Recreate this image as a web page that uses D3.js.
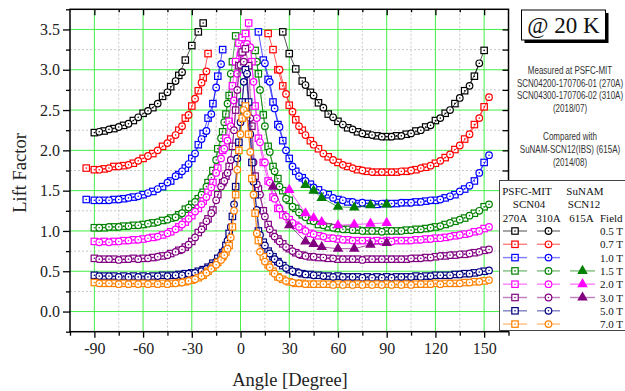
<!DOCTYPE html>
<html>
<head>
<meta charset="utf-8">
<script src="https://cdn.jsdelivr.net/npm/d3@7"></script>
<style>
body { margin: 0; background: #fff; }
</style>
</head>
<body>
<svg id="chart" width="625" height="391"></svg>
<script>
// angles [degree] of each sample
var ang270 = [-95,-90,-84,-78,-72,-66,-60,-54,-48,-43,
              -38,-34,-30,-26,-23,-20,-17,-14,-11,-9,
              -7,-5,-3,-1,1,3,5,7,9,11,
              14,17,20,23,26,30,34,38,43,48,
              54,60,66,72,78,84,90,96,102,108,
              114,120,126,132,138,144,150];
var ang310 = [-87,-81,-75,-69,-63,-57,-51,-45,-40,-36,
              -32,-28,-24,-21,-18,-15,-12,-10,-8,-6,
              -4,-2,0,2,4,6,8,10,12,15,
              18,21,24,28,32,36,40,45,51,57,
              63,69,75,81,87,93,99,105,111,117,
              123,129,135,141,147,153];
var ang615 = [20,30,40,45,50,60,70,80,90];

var fields = ["0.5 T","0.7 T","1.0 T","1.5 T","2.0 T","3.0 T","5.0 T","7.0 T"];
var colors = ["#000000","#ff0000","#0000ff","#008000","#ff00ff","#800080","#000080","#ff8000"];

// lift factor, PSFC-MIT SCN04 270A (squares)
var lf270_05 = [null,2.22,2.24,2.27,2.31,2.37,2.46,2.53,2.67,2.79,
  2.93,3.12,3.30,3.47,3.58,null,null,null,null,null,
  null,null,null,null,null,null,null,null,null,null,
  null,null,null,null,3.47,3.20,3.01,2.86,2.72,2.59,
  2.45,2.36,2.28,2.23,2.20,2.18,2.17,2.18,2.20,2.24,
  2.29,2.37,2.46,2.58,2.74,2.92,3.24];
var lf270_07 = [1.78,1.76,1.77,1.80,1.81,1.84,1.90,1.96,2.05,2.14,
  2.25,2.40,2.55,2.74,2.90,3.20,null,null,null,null,
  null,null,null,null,null,null,null,null,null,null,
  null,3.45,3.25,3.00,2.80,2.56,2.38,2.25,2.12,2.02,
  1.92,1.85,1.80,1.76,1.74,1.73,1.73,1.73,1.74,1.76,
  1.79,1.84,1.91,2.01,2.14,2.32,2.54];
var lf270_10 = [1.39,1.38,1.38,1.39,1.40,1.42,1.45,1.49,1.55,1.62,
  1.70,1.78,1.90,2.07,2.21,2.40,2.58,2.92,3.25,null,
  null,null,null,null,null,null,null,null,null,3.47,
  3.12,2.88,2.60,2.32,2.12,1.90,1.74,1.66,1.58,1.51,
  1.45,1.39,1.36,1.34,1.34,1.33,1.34,1.34,1.35,1.36,
  1.37,1.38,1.41,1.45,1.52,1.62,1.85];
var lf270_15 = [null,1.04,1.04,1.05,1.06,1.07,1.08,1.10,1.13,1.16,
  1.20,1.27,1.33,1.40,1.48,1.60,1.75,2.02,2.23,2.45,
  2.68,3.10,3.42,null,null,null,null,null,3.24,2.95,
  2.44,2.05,1.80,1.65,1.50,1.38,1.28,1.20,1.13,1.08,
  1.05,1.03,1.02,1.01,1.00,1.00,1.00,1.00,1.01,1.02,
  1.03,1.05,1.08,1.12,1.16,1.22,1.30];
var lf270_20 = [null,0.87,0.87,0.87,0.88,0.89,0.90,0.92,0.95,0.99,
  1.05,1.11,1.19,1.28,1.37,1.48,1.60,1.78,2.00,2.15,
  2.36,2.80,3.10,3.33,3.40,3.45,3.58,3.10,2.55,2.15,
  1.85,1.62,1.42,1.28,1.20,1.14,1.07,1.02,0.97,0.94,
  0.91,0.90,0.89,0.88,0.88,0.88,0.88,0.88,0.88,0.89,
  0.90,0.91,0.92,0.94,0.96,0.99,1.03];
var lf270_30 = [null,0.66,0.65,0.65,0.65,0.66,0.66,0.67,0.69,0.72,
  0.76,0.80,0.87,0.98,1.06,1.15,1.26,1.45,1.60,1.68,
  1.80,2.05,2.50,3.05,3.22,3.26,3.05,2.30,1.68,1.52,
  1.25,1.08,0.97,0.90,0.84,0.78,0.73,0.70,0.68,0.67,
  0.66,0.65,0.65,0.65,0.65,0.65,0.65,0.65,0.65,0.66,
  0.67,0.68,0.69,0.70,0.71,0.73,0.76];
var lf270_50 = [null,0.45,0.44,0.44,0.44,0.44,0.44,0.44,0.45,0.45,
  0.46,0.47,0.48,0.50,0.52,0.55,0.60,0.66,0.73,0.82,
  0.97,1.18,1.55,2.10,2.60,3.00,2.60,1.85,1.45,1.00,
  0.86,0.75,0.68,0.62,0.57,0.52,0.49,0.47,0.46,0.45,
  0.44,0.44,0.43,0.43,0.43,0.43,0.43,0.43,0.43,0.44,
  0.44,0.45,0.45,0.46,0.47,0.48,0.50];
var lf270_70 = [null,0.36,0.35,0.35,0.35,0.35,0.35,0.35,0.35,0.35,
  0.36,0.37,0.39,0.42,0.45,0.50,0.55,0.61,0.68,0.74,
  0.82,1.05,1.45,2.00,2.40,2.55,2.20,1.65,1.22,0.88,
  0.68,0.58,0.50,0.43,0.40,0.37,0.35,0.35,0.34,0.34,
  0.34,0.34,0.34,0.34,0.34,0.34,0.34,0.34,0.34,0.34,
  0.34,0.35,0.35,0.35,0.36,0.37,0.38];

// lift factor, PSFC-MIT SCN04 310A (circles)
var lf310_05 = [2.23,2.26,2.29,2.33,2.41,2.49,2.58,2.72,2.86,2.97,
  null,null,null,null,null,null,null,null,null,null,
  null,null,null,null,null,null,null,null,null,null,
  null,null,null,null,null,null,2.81,2.68,2.53,2.41,
  2.32,2.26,2.21,2.19,2.17,2.17,2.18,2.21,2.25,2.31,
  2.40,2.50,2.65,2.80,3.08,null];
var lf310_07 = [1.76,1.78,1.80,1.82,1.87,1.93,2.00,2.09,2.19,2.30,
  2.44,2.64,2.84,2.98,null,null,null,null,null,null,
  null,null,null,null,null,null,null,null,null,null,
  null,null,3.00,2.70,2.48,2.30,2.19,2.07,1.96,1.88,
  1.82,1.78,1.75,1.73,1.73,1.73,1.74,1.75,1.78,1.81,
  1.87,1.95,2.06,2.20,2.40,2.66];
var lf310_10 = [1.38,1.38,1.39,1.41,1.43,1.47,1.52,1.60,1.68,1.74,
  1.83,1.96,2.14,2.24,2.45,2.78,3.07,null,null,null,
  null,null,null,null,null,null,null,null,null,3.08,
  2.85,2.52,2.29,2.00,1.80,1.68,1.62,1.54,1.47,1.41,
  1.38,1.36,1.35,1.34,1.34,1.34,1.35,1.35,1.36,1.38,
  1.39,1.43,1.49,1.56,1.72,1.94];
var lf310_15 = [1.04,1.05,1.05,1.06,1.07,1.09,1.11,1.14,1.17,1.22,
  1.29,1.36,1.45,1.55,1.66,1.88,2.15,2.35,2.58,2.95,
  null,null,null,null,null,null,null,3.10,2.75,2.30,
  1.98,1.74,1.55,1.40,1.30,1.23,1.17,1.12,1.07,1.04,
  1.02,1.01,1.00,1.00,0.99,1.00,1.00,1.01,1.02,1.04,
  1.06,1.10,1.14,1.19,1.25,1.33];
var lf310_20 = [0.86,0.86,0.87,0.88,0.89,0.91,0.93,0.97,1.02,1.08,
  1.15,1.24,1.33,1.42,1.54,1.72,1.90,2.02,2.12,2.30,
  2.62,2.95,3.20,3.30,3.32,3.28,2.85,2.40,2.10,1.85,
  1.60,1.40,1.28,1.18,1.10,1.05,1.00,0.96,0.93,0.91,
  0.89,0.88,0.88,0.87,0.87,0.87,0.88,0.88,0.89,0.90,
  0.91,0.93,0.95,0.97,1.00,1.05];
var lf310_30 = [0.65,0.65,0.64,0.65,0.65,0.66,0.68,0.70,0.74,0.77,
  0.83,0.92,1.02,1.12,1.22,1.38,1.55,1.62,1.72,1.88,
  2.25,2.75,3.06,3.10,2.95,2.40,1.85,1.58,1.45,1.18,
  1.02,0.93,0.87,0.80,0.75,0.71,0.69,0.68,0.67,0.66,
  0.65,0.65,0.64,0.65,0.65,0.65,0.65,0.66,0.66,0.67,
  0.69,0.70,0.71,0.72,0.74,0.77];
var lf310_50 = [0.44,0.44,0.43,0.43,0.43,0.43,0.44,0.44,0.45,0.45,
  0.47,0.48,0.50,0.53,0.57,0.62,0.70,0.76,0.88,1.05,
  1.33,1.90,2.35,2.85,2.95,2.20,1.61,1.26,0.95,0.82,
  0.72,0.65,0.60,0.54,0.50,0.48,0.46,0.45,0.44,0.43,
  0.43,0.43,0.42,0.42,0.42,0.42,0.43,0.43,0.43,0.44,
  0.45,0.45,0.46,0.47,0.49,0.51];
var lf310_70 = [0.35,0.35,0.34,0.34,0.34,0.34,0.34,0.34,0.35,0.36,
  0.38,0.40,0.44,0.48,0.53,0.58,0.64,0.70,0.78,0.92,
  1.25,1.76,2.20,2.50,2.45,1.98,1.45,0.97,0.74,0.62,
  0.55,0.47,0.42,0.38,0.36,0.35,0.34,0.34,0.34,0.33,
  0.33,0.33,0.33,0.33,0.33,0.33,0.33,0.33,0.34,0.34,
  0.34,0.35,0.35,0.36,0.37,0.39];

// lift factor, SuNAM SCN12 615A (triangles)
var lf615_15 = [null,null,1.57,1.50,1.41,1.30,1.29,1.32,1.33];
var lf615_20 = [null,1.51,1.22,1.16,1.11,1.07,1.08,1.09,1.10];
var lf615_30 = [1.55,1.07,0.87,0.84,0.80,0.78,0.78,0.83,0.85];

var xTicks = [-90,-60,-30,0,30,60,90,120,150];
var yTicks = [0,0.5,1,1.5,2,2.5,3,3.5];

var sq = [lf270_05,lf270_07,lf270_10,lf270_15,lf270_20,lf270_30,lf270_50,lf270_70];
var ci = [lf310_05,lf310_07,lf310_10,lf310_15,lf310_20,lf310_30,lf310_50,lf310_70];
var tri = [null,null,null,lf615_15,lf615_20,lf615_30,null,null];

var svg = d3.select("#chart");
svg.append("rect").attr("width",625).attr("height",391).attr("fill","#fff");

var x = d3.scaleLinear().domain([-105,165]).range([70,508.5]);
var y = d3.scaleLinear().domain([-0.25,3.75]).range([331.7,9.3]);
var serif = "'Liberation Serif','Times New Roman',serif";

// grid: dotted minor, green major
var minorX = [-75,-45,-15,15,45,75,105,135];
var minorY = [0.25,0.75,1.25,1.75,2.25,2.75,3.25];
var grid = svg.append("g");
grid.selectAll(".mx").data(minorX).enter().append("line")
  .attr("x1",x).attr("x2",x).attr("y1",y(-0.25)).attr("y2",y(3.75))
  .attr("stroke","#c8c8c8").attr("stroke-dasharray","2,2");
grid.selectAll(".my").data(minorY).enter().append("line")
  .attr("y1",y).attr("y2",y).attr("x1",x(-105)).attr("x2",x(165))
  .attr("stroke","#c8c8c8").attr("stroke-dasharray","2,2");
grid.selectAll(".gx").data(xTicks).enter().append("line")
  .attr("x1",x).attr("x2",x).attr("y1",y(-0.25)).attr("y2",y(3.75))
  .attr("stroke","#44ee44").attr("stroke-width",1);
grid.selectAll(".gy").data(yTicks).enter().append("line")
  .attr("y1",y).attr("y2",y).attr("x1",x(-105)).attr("x2",x(165))
  .attr("stroke","#44ee44").attr("stroke-width",1);

// axes
function styleAxis(g) {
  g.select(".domain").remove();
  g.selectAll("line").attr("stroke","#000").attr("stroke-width",1.3);
  g.selectAll("text").attr("font-family",serif).attr("font-size",16).attr("fill","#222");
}
var edgeX = [-105].concat(minorX,[165]);
var edgeY = [-0.25].concat(minorY,[3.75]);
svg.append("g").attr("transform","translate(0,331.7)")
  .call(d3.axisBottom(x).tickValues(xTicks).tickSize(6).tickPadding(5).tickFormat(function (d) { return String(d); })).call(styleAxis);
svg.append("g").attr("transform","translate(0,331.7)")
  .call(d3.axisBottom(x).tickValues(edgeX).tickSize(4).tickFormat("")).call(styleAxis);
svg.append("g").attr("transform","translate(70,0)")
  .call(d3.axisLeft(y).tickValues(yTicks).tickSize(7).tickPadding(3).tickFormat(d3.format(".1f"))).call(styleAxis);
svg.append("g").attr("transform","translate(70,0)")
  .call(d3.axisLeft(y).tickValues(edgeY).tickSize(4).tickFormat("")).call(styleAxis);
svg.append("g").attr("transform","translate(0,9.3)")
  .call(d3.axisTop(x).tickValues(xTicks).tickSize(-6).tickFormat("")).call(styleAxis);
svg.append("g").attr("transform","translate(0,9.3)")
  .call(d3.axisTop(x).tickValues(minorX).tickSize(-3).tickFormat("")).call(styleAxis);
svg.append("g").attr("transform","translate(508.5,0)")
  .call(d3.axisRight(y).tickValues(yTicks.concat(minorY)).tickSize(-6).tickFormat("")).call(styleAxis);

svg.append("rect").attr("x",x(-105)).attr("y",y(3.75))
  .attr("width",x(165)-x(-105)).attr("height",y(-0.25)-y(3.75))
  .attr("fill","none").attr("stroke","#000").attr("stroke-width",1.5);

// axis titles
svg.append("text").attr("x",290).attr("y",386).attr("text-anchor","middle")
  .attr("font-family",serif).attr("font-size",18.5).attr("fill","#222").text("Angle [Degree]");
svg.append("text").attr("transform","translate(26,173) rotate(-90)").attr("text-anchor","middle")
  .attr("font-family",serif).attr("font-size",18.5).attr("fill","#222").text("Lift Factor");

// markers
function marker(g, shape, cx, cy, color) {
  if (shape === "sq") {
    g.append("rect").attr("x",cx-3.2).attr("y",cy-3.2).attr("width",6.4).attr("height",6.4)
      .attr("fill","#fff").attr("stroke",color).attr("stroke-width",1.2);
    g.append("circle").attr("cx",cx).attr("cy",cy).attr("r",0.8).attr("fill",color);
  } else if (shape === "ci") {
    g.append("circle").attr("cx",cx).attr("cy",cy).attr("r",3.3)
      .attr("fill","#fff").attr("stroke",color).attr("stroke-width",1.2);
    g.append("circle").attr("cx",cx).attr("cy",cy).attr("r",0.8).attr("fill",color);
  } else {
    g.append("path").attr("transform","translate(" + cx + "," + cy + ")")
      .attr("d", d3.symbol(d3.symbolTriangle, 48)()).attr("fill",color);
  }
}

var plot = svg.append("g");
function drawSeries(angles, vals, color, shape) {
  var pts = angles.map(function (a, i) { return {a: a, v: vals[i]}; });
  var line = d3.line().defined(function (d) { return d.v != null; })
    .x(function (d) { return x(d.a); }).y(function (d) { return y(d.v); });
  plot.append("path").datum(pts).attr("d", line).attr("fill","none")
    .attr("stroke",color).attr("stroke-width",0.9).attr("stroke-opacity",0.75);
  pts.filter(function (d) { return d.v != null; }).forEach(function (d) {
    marker(plot, shape, x(d.a), y(d.v), color);
  });
}

for (var i = 0; i < fields.length; i++) {
  drawSeries(ang270, sq[i], colors[i], "sq");
  drawSeries(ang310, ci[i], colors[i], "ci");
}
for (var i = 0; i < fields.length; i++) {
  if (tri[i]) drawSeries(ang615, tri[i], colors[i], "tri");
}

// @ 20 K box
svg.append("rect").attr("x",524.5).attr("y",13).attr("width",84).attr("height",30).attr("fill","#000");
svg.append("rect").attr("x",521.5).attr("y",10).attr("width",84).attr("height",30)
  .attr("fill","#fff").attr("stroke","#000").attr("stroke-width",1);
svg.append("text").attr("x",563.5).attr("y",33).attr("text-anchor","middle")
  .attr("font-family",serif).attr("font-size",23).attr("fill","#111").text("@ 20 K");

// notes, narrow sans squeezed horizontally
var note = ["Measured at PSFC-MIT","SCN04200-170706-01 (270A)","SCN04300-170706-02 (310A)","(2018/07)",
            "Compared with","SuNAM-SCN12(IBS) (615A)","(2014/08)"];
var noteY = [74,86.5,99.2,112,140,153,166];
svg.selectAll(".note").data(note).enter().append("text")
  .attr("transform",function (d, i) { return "translate(570," + noteY[i] + ") scale(0.8,1)"; })
  .attr("text-anchor","middle")
  .attr("font-family","'Liberation Sans',Arial,sans-serif")
  .attr("font-size",10).attr("fill","#333").text(function (d) { return d; });

// legend
var lg = svg.append("g");
lg.append("rect").attr("x",499.5).attr("y",180.5).attr("width",140).attr("height",150)
  .attr("fill","#fff").attr("stroke","#444").attr("stroke-width",1);
function ltext(t, xx, yy, anchor) {
  lg.append("text").attr("x",xx).attr("y",yy).attr("text-anchor",anchor || "middle")
    .attr("font-family",serif).attr("font-size",11).attr("fill","#111").text(t);
}
ltext("PSFC-MIT",527,195); ltext("SuNAM",585,195);
ltext("SCN04",529,208); ltext("SCN12",584,208);
ltext("270A",515,221.5); ltext("310A",548.5,221.5); ltext("615A",581.5,221.5);
ltext("Field",600,221.5,"start");
fields.forEach(function (f, i) {
  var cy = 231 + i * 13.3;
  var cols = [[503,527,515,"sq"],[537,560,548.5,"ci"]];
  if (tri[i]) cols.push([570,595,582.5,"tri"]);
  cols.forEach(function (c) {
    lg.append("line").attr("x1",c[0]).attr("x2",c[1]).attr("y1",cy).attr("y2",cy)
      .attr("stroke",colors[i]).attr("stroke-width",1.4).attr("stroke-opacity",0.5);
    marker(lg, c[3], c[2], cy, colors[i]);
  });
  ltext(f, 600, cy + 4, "start");
});
</script>
</body>
</html>
